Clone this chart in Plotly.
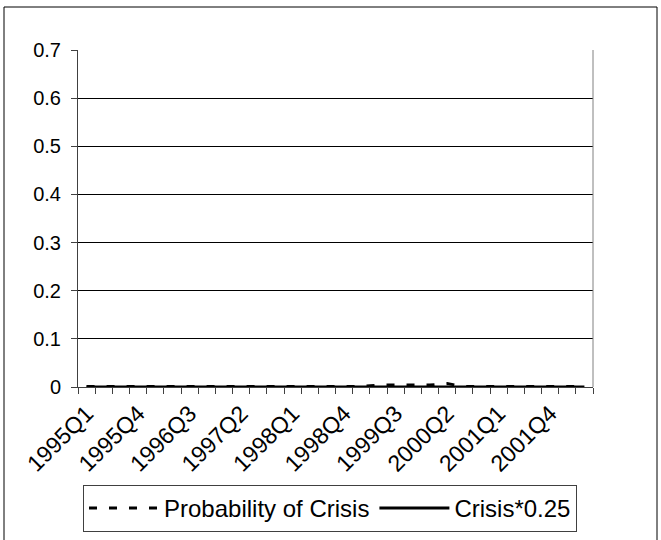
import plotly.graph_objects as go

quarters = ["1995Q1", "1995Q2", "1995Q3", "1995Q4", "1996Q1", "1996Q2", "1996Q3", "1996Q4",
            "1997Q1", "1997Q2", "1997Q3", "1997Q4", "1998Q1", "1998Q2", "1998Q3", "1998Q4",
            "1999Q1", "1999Q2", "1999Q3", "1999Q4", "2000Q1", "2000Q2", "2000Q3", "2000Q4",
            "2001Q1", "2001Q2", "2001Q3", "2001Q4", "2002Q1", "2002Q2"]
shown_labels = ["1995Q1", "1995Q4", "1996Q3", "1997Q2", "1998Q1", "1998Q4",
                "1999Q3", "2000Q2", "2001Q1", "2001Q4"]
prob_crisis = [0.001, 0.001, 0.001, 0.001, 0.001, 0.001, 0.001, 0.001,
               0.001, 0.001, 0.001, 0.001, 0.001, 0.001, 0.001, 0.001,
               0.001, 0.004, 0.004, 0.004, 0.004, 0.007, 0.001, 0.001,
               0.001, 0.001, 0.001, 0.001, 0.001, 0.001]
crisis_025 = [0, 0, 0, 0, 0, 0, 0, 0, 0, 0, 0, 0, 0, 0, 0,
              0, 0, 0, 0, 0, 0, 0, 0, 0, 0, 0, 0, 0, 0, 0]
y_ticks = [0, 0.1, 0.2, 0.3, 0.4, 0.5, 0.6, 0.7]

FONT = "Arial, Liberation Sans, sans-serif"

fig = go.Figure()
fig.add_trace(go.Scatter(x=quarters, y=prob_crisis, mode="lines", name="Probability of Crisis",
                         line=dict(color="black", width=3, dash="8px,12px")))
fig.add_trace(go.Scatter(x=quarters, y=crisis_025, mode="lines", name="Crisis*0.25",
                         line=dict(color="black", width=3)))

L, R, T, B = 78, 593, 50, 387
W, H = 661, 540
pw, ph = R - L, B - T

def px(x):
    return (x - L) / pw

def py(y):
    return (B - y) / ph

fig.update_layout(
    width=W, height=H,
    margin=dict(l=L, r=W - R, t=T, b=H - B, autoexpand=False),
    paper_bgcolor="white", plot_bgcolor="white",
    font=dict(family=FONT, size=20, color="black"),
    showlegend=True,
    legend=dict(orientation="h", xref="container", yref="container",
                x=83 / W, y=1 - 485 / H, xanchor="left", yanchor="top",
                bordercolor="#404040", borderwidth=1, font=dict(size=24, family=FONT),
                bgcolor="white", itemwidth=70, tracegroupgap=0),
    xaxis=dict(type="category", tickvals=quarters,
               ticktext=[q if q in shown_labels else "" for q in quarters],
               tickangle=-45, tickson="boundaries", ticks="outside", ticklen=6,
               tickcolor="#404040", showgrid=False, showline=True, linecolor="#404040",
               linewidth=1, range=[-0.5, len(quarters) - 0.5], zeroline=False,
               ticklabelstandoff=3, automargin=False,
               tickfont=dict(size=23, family=FONT)),
    yaxis=dict(range=[0, 0.7], tickvals=y_ticks, ticks="outside", ticklen=6,
               tickcolor="#404040", showgrid=True, gridcolor="black", gridwidth=1,
               showline=True, linecolor="#404040", linewidth=1, mirror=False,
               zeroline=False, ticklabelstandoff=6, automargin=False,
               tickfont=dict(size=20, family=FONT)),
    shapes=[dict(type="rect", xref="paper", yref="paper",
                 x0=px(4), x1=px(657), y0=py(548), y1=py(7),
                 line=dict(color="black", width=1), fillcolor="rgba(0,0,0,0)", layer="below"),
            dict(type="line", xref="paper", yref="paper", x0=1, x1=1, y0=0, y1=1,
                 line=dict(color="#808080", width=1))],
)

fig.write_html("out.html", config={"displayModeBar": False},
               post_script="document.body.style.margin='0px';")
